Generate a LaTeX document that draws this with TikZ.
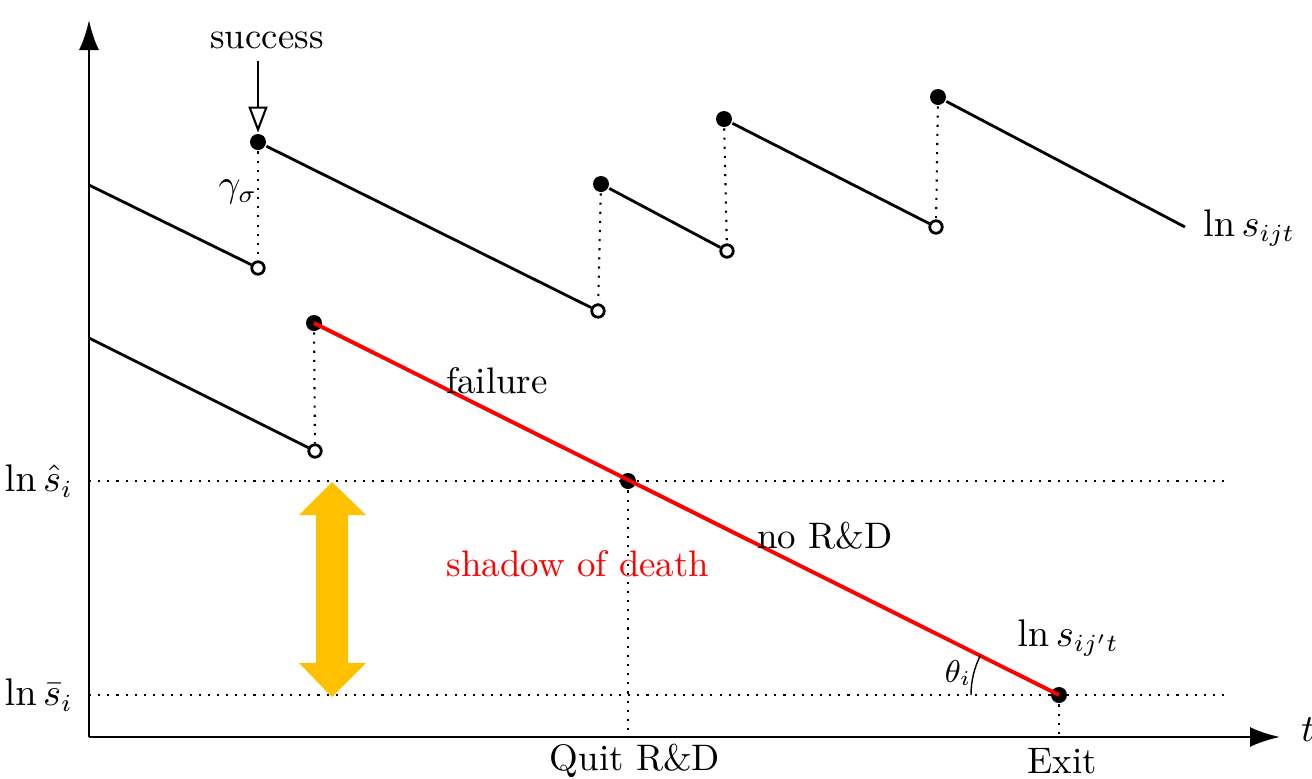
\documentclass[tikz,border=0pt]{standalone}
\usepackage{tikz}
\usetikzlibrary{arrows.meta, calc}
\definecolor{shadoworange}{HTML}{FFC000}

\begin{document}
\begin{tikzpicture}[thick, font=\fontsize{10.5}{12.6}\selectfont,
    fdot/.style={circle, fill=black, inner sep=0pt, minimum size=1.6mm},
    odot/.style={circle, draw=black, fill=white, inner sep=0pt, minimum size=1.25mm, thick}]
            \useasboundingbox (0,0) rectangle (13.12,7.78);

            % axes
            \coordinate (O) at (0.89, 0.41);
            \coordinate (Ytop) at (0.89, 7.58);
            \coordinate (Xend) at (12.80, 0.41);
            \draw[-{Latex[length=3mm, width=2mm]}] (O) -- (Ytop);
            \draw[-{Latex[length=3mm, width=2mm]}] (O) -- (Xend);
            \node[right] (tlab) at (12.88, 0.48) {$t$};

            % threshold levels
            \coordinate (Hl) at (0.89, 2.97);
            \coordinate (Hr) at (12.30, 2.97);
            \coordinate (Bl) at (0.89, 0.83);
            \coordinate (Br) at (12.30, 0.83);
            \draw[semithick, dotted] (Hl) -- (Hr);
            \draw[semithick, dotted] (Bl) -- (Br);
            \node[left] (hatlab) at (0.86, 2.97) {$\ln \hat{s}_i$};
            \node[left] (barlab) at (0.86, 0.83) {$\ln \bar{s}_i$};

            % upper path with successes
            \coordinate (U0) at (0.89, 5.93);
            \node[fdot] (F1) at (2.58, 6.36) {};
            \node[odot] (O1) at (2.58, 5.10) {};
            \node[fdot] (F2) at (6.01, 5.94) {};
            \node[odot] (O2) at (5.98, 4.67) {};
            \node[fdot] (F3) at (7.24, 6.59) {};
            \node[odot] (O3) at (7.27, 5.27) {};
            \node[fdot] (F4) at (9.38, 6.81) {};
            \node[odot] (O4) at (9.36, 5.51) {};
            \coordinate (U5) at (11.85, 5.51);
            \draw (U0) -- (O1);
            \draw (F1) -- (O2);
            \draw (F2) -- (O3);
            \draw (F3) -- (O4);
            \draw (F4) -- (U5);
            \foreach \a/\b in {F1/O1, F2/O2, F3/O3, F4/O4}
                \draw[semithick, dotted] (\a) -- (\b);
            \node[right] (sijt) at (11.90, 5.50) {$\ln s_{ijt}$};

            % success label
            \node (succ) at (2.67, 7.38) {success};
            \coordinate (Sa) at (2.58, 7.17);
            \draw[semithick, -{Triangle[open, length=2.6mm, width=1.9mm]}] (Sa) -- (F1);
            \node (gam) at (2.38, 5.86) {$\gamma_\sigma$};

            % lower path, failure and no R&D
            \coordinate (L0) at (0.89, 4.40);
            \node[odot] (OL) at (3.15, 3.27) {};
            \node[fdot] (FL) at (3.14, 4.55) {};
            \node[fdot] (Q) at (6.28, 2.97) {};
            \node[fdot] (E) at (10.59, 0.83) {};
            \draw (L0) -- (OL);
            \draw[semithick, dotted] (FL) -- (OL);
            \draw[red, line width=1.1pt] (FL.center) -- (E.center);
            \coordinate (Qb) at (6.28, 0.41);
            \coordinate (Eb) at (10.59, 0.41);
            \draw[semithick, dotted] (Q) -- (Qb);
            \draw[semithick, dotted] (E) -- (Eb);
            \node (quit) at (6.35, 0.17) {Quit R\&D};
            \node (exit) at (10.62, 0.17) {Exit};

            \node (fail) at (4.97, 3.97) {failure};
            \node (nord) at (8.25, 2.42) {no R\&D};
            \node[red] (shadow) at (5.78, 2.14) {shadow of death};
            \node (sijpt) at (10.68, 1.40) {$\ln s_{ij't}$};

            % angle
            \draw[thin] ($(E)+(-0.88,0)$) arc (180:153.43:0.88);
            \node[font=\small] (theta) at (9.58, 1.05) {$\theta_i$};

            % shadow of death arrow
            \fill[shadoworange] (3.32, 2.96) -- (3.66, 2.63) -- (3.48, 2.63) -- (3.48, 1.15)
                -- (3.66, 1.15) -- (3.32, 0.81) -- (2.99, 1.15) -- (3.16, 1.15)
                -- (3.16, 2.63) -- (2.99, 2.63) -- cycle;
\end{tikzpicture}
\end{document}
